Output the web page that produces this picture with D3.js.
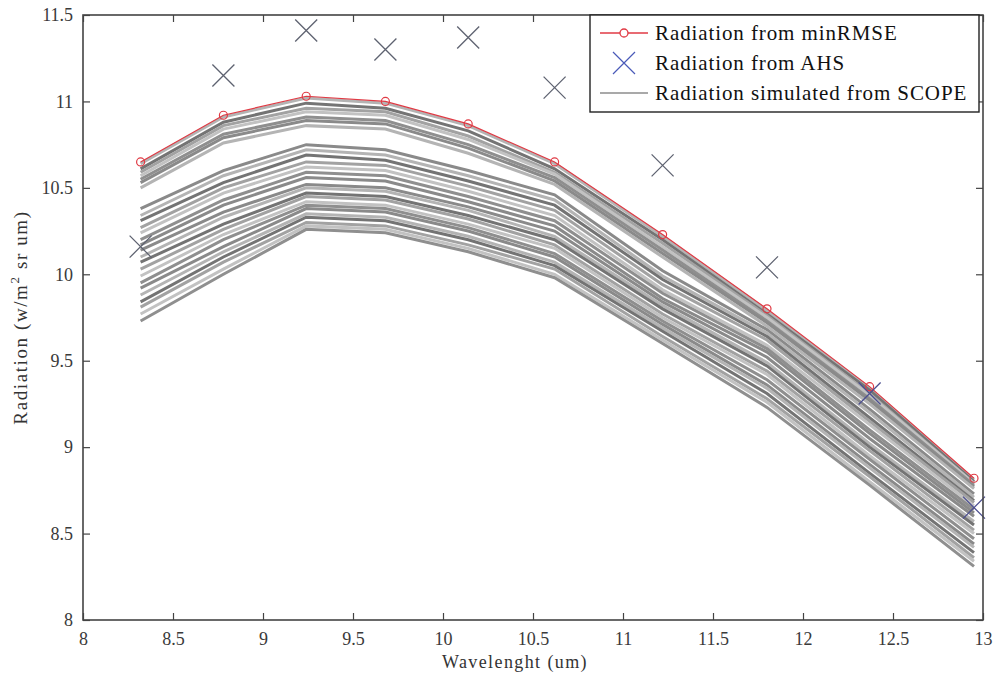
<!DOCTYPE html>
<html>
<head>
<meta charset="utf-8">
<script src="https://cdn.jsdelivr.net/npm/d3@7"></script>
<style>
  body { margin: 0; background: #fff; }
  svg text { font-family: "Liberation Serif", "DejaVu Serif", serif; }
</style>
</head>
<body>
<div id="chart"></div>
<script>
const W = 993;
const H = 673;

const MARGIN = {
    TOP: 15,
    RIGHT: 10,
    BOTTOM: 53,
    LEFT: 83,
};
const WIDTH = W - MARGIN.LEFT - MARGIN.RIGHT;
const HEIGHT = H - MARGIN.TOP - MARGIN.BOTTOM;

// band wavelengths (um)
const WAVELENGTH = [8.32, 8.78, 9.24, 9.68, 10.14, 10.62, 11.22, 11.80, 12.37, 12.95];

const MIN_RMSE = [10.65, 10.92, 11.03, 11.00, 10.87, 10.65, 10.23, 9.80, 9.35, 8.82];
const AHS = [10.16, 11.15, 11.41, 11.30, 11.37, 11.08, 10.63, 10.04, 9.31, 8.65];

// SCOPE simulations, upper group
const SCOPE_BAND_1 = [
    [10.64, 10.91, 11.02, 10.99, 10.86, 10.64, 10.22, 9.79, 9.34, 8.81],
    [10.61, 10.88, 10.99, 10.96, 10.83, 10.61, 10.20, 9.77, 9.33, 8.80],
    [10.59, 10.86, 10.96, 10.94, 10.80, 10.59, 10.18, 9.76, 9.31, 8.79],
    [10.57, 10.84, 10.94, 10.92, 10.78, 10.58, 10.16, 9.75, 9.30, 8.79],
    [10.55, 10.81, 10.91, 10.89, 10.75, 10.56, 10.14, 9.73, 9.28, 8.78],
    [10.53, 10.79, 10.89, 10.87, 10.73, 10.54, 10.12, 9.72, 9.27, 8.77],
    [10.50, 10.76, 10.86, 10.84, 10.70, 10.52, 10.10, 9.70, 9.25, 8.76],
];
// middle group
const SCOPE_BAND_2 = [
    [10.38, 10.60, 10.75, 10.72, 10.60, 10.46, 10.02, 9.68, 9.22, 8.73],
    [10.34, 10.57, 10.72, 10.69, 10.57, 10.43, 9.99, 9.66, 9.20, 8.71],
    [10.31, 10.53, 10.69, 10.66, 10.54, 10.40, 9.97, 9.64, 9.17, 8.69],
    [10.27, 10.50, 10.65, 10.63, 10.51, 10.37, 9.94, 9.62, 9.15, 8.68],
    [10.24, 10.47, 10.62, 10.60, 10.48, 10.34, 9.91, 9.59, 9.13, 8.66],
    [10.20, 10.43, 10.59, 10.57, 10.45, 10.31, 9.89, 9.57, 9.10, 8.64],
    [10.17, 10.40, 10.56, 10.54, 10.42, 10.28, 9.86, 9.55, 9.08, 8.62],
];
// lower group
const SCOPE_BAND_3 = [
    [10.14, 10.36, 10.52, 10.50, 10.39, 10.25, 9.84, 9.52, 9.05, 8.60],
    [10.10, 10.33, 10.50, 10.48, 10.37, 10.22, 9.82, 9.49, 9.02, 8.57],
    [10.07, 10.29, 10.47, 10.45, 10.34, 10.20, 9.80, 9.47, 9.00, 8.55],
    [10.03, 10.26, 10.45, 10.43, 10.32, 10.17, 9.77, 9.44, 8.98, 8.52],
    [9.99, 10.23, 10.42, 10.40, 10.29, 10.15, 9.75, 9.42, 8.95, 8.50],
    [9.95, 10.20, 10.40, 10.38, 10.27, 10.12, 9.73, 9.39, 8.93, 8.47],
    [9.92, 10.16, 10.38, 10.36, 10.25, 10.10, 9.71, 9.36, 8.90, 8.44],
    [9.88, 10.13, 10.35, 10.33, 10.22, 10.07, 9.69, 9.34, 8.88, 8.42],
    [9.84, 10.10, 10.33, 10.31, 10.20, 10.05, 9.67, 9.31, 8.85, 8.39],
    [9.81, 10.07, 10.30, 10.28, 10.17, 10.03, 9.64, 9.28, 8.83, 8.36],
    [9.77, 10.03, 10.28, 10.26, 10.15, 10.00, 9.62, 9.26, 8.80, 8.34],
    [9.73, 10.00, 10.26, 10.24, 10.13, 9.98, 9.60, 9.23, 8.78, 8.31],
];

const X_TICKS = [8, 8.5, 9, 9.5, 10, 10.5, 11, 11.5, 12, 12.5, 13];
const Y_TICKS = [8, 8.5, 9, 9.5, 10, 10.5, 11, 11.5];
const GREYS = ["#8a8a8a", "#b4b4b4", "#747474", "#a2a2a2", "#c2c2c2", "#8f8f8f"];

const svg = d3.select("#chart")
    .append("svg")
    .attr("width", W)
    .attr("height", H);

const g = svg.append("g")
    .attr("transform", `translate(${MARGIN.LEFT}, ${MARGIN.TOP})`);

const x = d3.scaleLinear().domain([8, 13]).range([0, WIDTH]);
const y = d3.scaleLinear().domain([8, 11.5]).range([HEIGHT, 0]);

const line = d3.line()
    .x((d, i) => x(WAVELENGTH[i]))
    .y((d) => y(d));

// simulated curves
const scope = [].concat(SCOPE_BAND_3, SCOPE_BAND_2, SCOPE_BAND_1);
g.append("g")
    .selectAll("path")
    .data(scope)
    .join("path")
    .attr("d", line)
    .attr("fill", "none")
    .attr("stroke", (d, i) => GREYS[i % GREYS.length])
    .attr("stroke-width", 3);

// minRMSE
g.append("path")
    .datum(MIN_RMSE)
    .attr("d", line)
    .attr("fill", "none")
    .attr("stroke", "#e03a44")
    .attr("stroke-width", 1.2);

g.append("g")
    .selectAll("circle")
    .data(MIN_RMSE)
    .join("circle")
    .attr("cx", (d, i) => x(WAVELENGTH[i]))
    .attr("cy", (d) => y(d))
    .attr("r", 4)
    .attr("fill", "none")
    .attr("stroke", "#e03a44")
    .attr("stroke-width", 1.2);

// AHS crosses
const cross = (s) => `M${-s},${-s}L${s},${s}M${-s},${s}L${s},${-s}`;
g.append("g")
    .selectAll("path")
    .data(AHS)
    .join("path")
    .attr("transform", (d, i) => `translate(${x(WAVELENGTH[i])},${y(d)})`)
    .attr("d", cross(11))
    .attr("fill", "none")
    .attr("stroke", (d, i) => i >= 8 ? "#4c4f90" : "#5e6270")
    .attr("stroke-width", 1.3);

// axes, ticks pointing inward
const axisColor = "#444";
const styleAxis = (sel, labels) => {
    sel.attr("font-family", null);
    sel.select(".domain").remove();
    sel.selectAll(".tick line").attr("stroke", axisColor).attr("stroke-width", 1.2);
    sel.selectAll(".tick text")
        .attr("fill", labels ? "#3a3a3a" : "none")
        .style("font-size", "18px");
};

g.append("g")
    .attr("transform", `translate(0,${HEIGHT})`)
    .call(d3.axisBottom(x).tickValues(X_TICKS).tickFormat(d3.format("")).tickSizeInner(-7).tickSizeOuter(0).tickPadding(12))
    .call((s) => styleAxis(s, true));

g.append("g")
    .call(d3.axisTop(x).tickValues(X_TICKS).tickFormat("").tickSizeInner(-7).tickSizeOuter(0))
    .call((s) => styleAxis(s, false));

g.append("g")
    .call(d3.axisLeft(y).tickValues(Y_TICKS).tickFormat(d3.format("")).tickSizeInner(-7).tickSizeOuter(0).tickPadding(10))
    .call((s) => styleAxis(s, true));

g.append("g")
    .attr("transform", `translate(${WIDTH},0)`)
    .call(d3.axisRight(y).tickValues(Y_TICKS).tickFormat("").tickSizeInner(-7).tickSizeOuter(0))
    .call((s) => styleAxis(s, false));

g.append("rect")
    .attr("width", WIDTH)
    .attr("height", HEIGHT)
    .attr("fill", "none")
    .attr("stroke", axisColor)
    .attr("stroke-width", 1.6);

// axis titles
svg.append("text")
    .attr("x", MARGIN.LEFT + WIDTH / 2 - 18)
    .attr("y", H - 5)
    .attr("text-anchor", "middle")
    .attr("fill", "#333")
    .style("font-size", "18px")
    .style("letter-spacing", "1.4px")
    .text("Wavelenght (um)");

const yTitle = svg.append("text")
    .attr("transform", `translate(27, ${MARGIN.TOP + HEIGHT / 2}) rotate(-90)`)
    .attr("text-anchor", "middle")
    .attr("fill", "#333")
    .style("font-size", "19px")
    .style("letter-spacing", "1.6px");
yTitle.append("tspan").text("Radiation (w/m");
yTitle.append("tspan").attr("dy", -8).style("font-size", "13px").text("2");
yTitle.append("tspan").attr("dy", 8).text(" sr um)");

// legend
const legend = svg.append("g").attr("transform", "translate(590,15)");
legend.append("rect")
    .attr("width", 389)
    .attr("height", 97)
    .attr("fill", "#fff")
    .attr("stroke", "#222")
    .attr("stroke-width", 1.4);

const rows = [
    { label: "Radiation from minRMSE", type: "rmse" },
    { label: "Radiation from AHS", type: "ahs" },
    { label: "Radiation simulated from SCOPE", type: "scope" },
];
const row = legend.selectAll(".row")
    .data(rows)
    .join("g")
    .attr("class", "row")
    .attr("transform", (d, i) => `translate(0,${18 + i * 30})`);

row.filter((d) => d.type !== "ahs").append("line")
    .attr("x1", 10).attr("x2", 58)
    .attr("stroke", (d) => d.type === "rmse" ? "#e03a44" : "#8c8c8c")
    .attr("stroke-width", 1.3);
row.filter((d) => d.type === "rmse").append("circle")
    .attr("cx", 34).attr("r", 4)
    .attr("fill", "#fff").attr("stroke", "#e03a44").attr("stroke-width", 1.3);
row.filter((d) => d.type === "ahs").append("path")
    .attr("transform", "translate(34,0)")
    .attr("d", cross(11))
    .attr("stroke", "#4a5ab8").attr("stroke-width", 1.2);

row.append("text")
    .attr("x", 65)
    .attr("dy", "0.35em")
    .attr("fill", "#111")
    .style("font-size", "21px")
    .style("letter-spacing", "0.9px")
    .text((d) => d.label);
</script>
</body>
</html>
